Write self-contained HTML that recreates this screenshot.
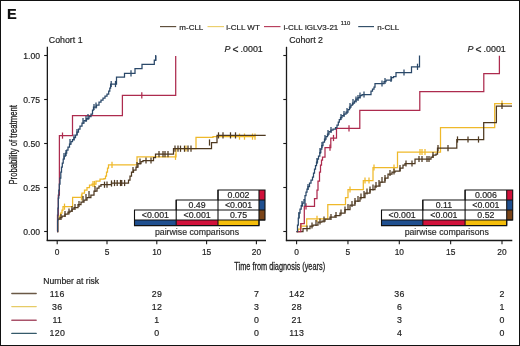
<!DOCTYPE html>
<html><head><meta charset="utf-8"><title>Cumulative incidence of treatment</title>
<style>
html,body{margin:0;padding:0;background:#fff;width:520px;height:346px;overflow:hidden}
svg{display:block;will-change:transform}
text{font-family:"Liberation Sans",sans-serif;stroke:#222;stroke-width:.18px}
.t{stroke-width:.3px}
</style></head><body>
<svg width="520" height="346" viewBox="0 0 520 346">
<rect x="0" y="0" width="520" height="346" fill="#fff"/><text x="7.1" y="19.2" font-size="14.6" font-weight="bold" fill="#111">E</text><line x1="160" y1="26.6" x2="176.2" y2="26.6" stroke="#5f4f3c" stroke-width="1.15"/><text x="179.3" y="29.7" font-size="8.0" fill="#222">m-CLL</text><line x1="207.5" y1="26.6" x2="224" y2="26.6" stroke="#ebcf6e" stroke-width="1.15"/><text x="226.3" y="29.7" font-size="8.0" fill="#222">i-CLL WT</text><line x1="264" y1="26.6" x2="280.5" y2="26.6" stroke="#b8405e" stroke-width="1.15"/><text x="283.6" y="29.7" font-size="8.0" fill="#222">i-CLL IGLV3-21</text><line x1="358.2" y1="26.6" x2="374" y2="26.6" stroke="#34506a" stroke-width="1.15"/><text x="377.3" y="29.7" font-size="8.0" fill="#222">n-CLL</text><text x="340.8" y="25.2" font-size="5.9" fill="#222">110</text><text x="48.8" y="43.0" font-size="8.8" fill="#222">Cohort 1</text><text x="289.2" y="43.0" font-size="8.8" fill="#222">Cohort 2</text><text x="224.6" y="52.0" font-size="8.9" font-style="italic" fill="#222">P</text><text x="232.4" y="53.2" font-size="10.3" fill="#222">&lt;</text><text x="240.6" y="52.0" font-size="8.9" fill="#222">.0001</text><text x="467.6" y="52.0" font-size="8.9" font-style="italic" fill="#222">P</text><text x="475.4" y="53.2" font-size="10.3" fill="#222">&lt;</text><text x="483.6" y="52.0" font-size="8.9" fill="#222">.0001</text><path d="M57.30 231.50H57.60V219.00H59.00V216.00H60.50V213.00H62.00V210.00H63.00V206.70H72.60V197.30H82.00V193.00H84.50V190.00H87.00V187.50H89.50V185.00H92.00V184.00H96.00V181.00H100.00V179.00H104.00V178.50H105.50V176.00H106.50V172.00H107.50V168.00H108.50V164.80H137.00V156.80H176.00V148.50H196.00V137.30H213.00V136.60H255.50" fill="none" stroke="#efb92a" stroke-width="1.25" stroke-linejoin="miter"/><line x1="64.50" y1="203.60" x2="64.50" y2="209.80" stroke="#efb92a" stroke-width="1.25"/><line x1="81.50" y1="194.20" x2="81.50" y2="200.40" stroke="#efb92a" stroke-width="1.25"/><line x1="93.00" y1="180.90" x2="93.00" y2="187.10" stroke="#efb92a" stroke-width="1.25"/><line x1="94.50" y1="180.90" x2="94.50" y2="187.10" stroke="#efb92a" stroke-width="1.25"/><line x1="112.00" y1="161.70" x2="112.00" y2="167.90" stroke="#efb92a" stroke-width="1.25"/><line x1="175.50" y1="153.70" x2="175.50" y2="159.90" stroke="#efb92a" stroke-width="1.25"/><line x1="186.00" y1="145.40" x2="186.00" y2="151.60" stroke="#efb92a" stroke-width="1.25"/><line x1="239.50" y1="133.50" x2="239.50" y2="139.70" stroke="#efb92a" stroke-width="1.25"/><line x1="244.50" y1="133.50" x2="244.50" y2="139.70" stroke="#efb92a" stroke-width="1.25"/><line x1="252.50" y1="133.50" x2="252.50" y2="139.70" stroke="#efb92a" stroke-width="1.25"/><line x1="255.00" y1="133.50" x2="255.00" y2="139.70" stroke="#efb92a" stroke-width="1.25"/><path d="M57.30 231.50H57.80V219.00H60.00V217.50H62.00V216.00H65.00V214.00H68.00V212.00H70.00V211.00H72.00V209.00H74.00V207.50H78.00V204.50H81.00V202.00H84.00V200.00H87.00V197.50H90.90V195.00H94.00V191.00H97.00V188.00H99.00V186.00H101.00V184.70H111.50V183.00H127.50H128.50V180.00H130.00V176.00H131.50V172.00H133.50V170.00H136.00V167.00H138.00V163.50H141.00V161.50H143.00V160.50H153.50V157.50H155.50V154.20H173.50V148.70H211.50V142.50H217.00V135.40H265.70" fill="none" stroke="#4e3920" stroke-width="1.25" stroke-linejoin="miter"/><line x1="61.00" y1="213.90" x2="61.00" y2="220.10" stroke="#4e3920" stroke-width="1.25"/><line x1="65.00" y1="210.90" x2="65.00" y2="217.10" stroke="#4e3920" stroke-width="1.25"/><line x1="69.00" y1="208.40" x2="69.00" y2="214.60" stroke="#4e3920" stroke-width="1.25"/><line x1="72.00" y1="205.90" x2="72.00" y2="212.10" stroke="#4e3920" stroke-width="1.25"/><line x1="75.00" y1="203.90" x2="75.00" y2="210.10" stroke="#4e3920" stroke-width="1.25"/><line x1="79.00" y1="200.90" x2="79.00" y2="207.10" stroke="#4e3920" stroke-width="1.25"/><line x1="83.00" y1="195.90" x2="83.00" y2="202.10" stroke="#4e3920" stroke-width="1.25"/><line x1="86.00" y1="193.90" x2="86.00" y2="200.10" stroke="#4e3920" stroke-width="1.25"/><line x1="89.00" y1="190.90" x2="89.00" y2="197.10" stroke="#4e3920" stroke-width="1.25"/><line x1="95.00" y1="185.90" x2="95.00" y2="192.10" stroke="#4e3920" stroke-width="1.25"/><line x1="104.50" y1="181.60" x2="104.50" y2="187.80" stroke="#4e3920" stroke-width="1.25"/><line x1="107.00" y1="181.60" x2="107.00" y2="187.80" stroke="#4e3920" stroke-width="1.25"/><line x1="111.50" y1="180.40" x2="111.50" y2="186.60" stroke="#4e3920" stroke-width="1.25"/><line x1="114.50" y1="179.90" x2="114.50" y2="186.10" stroke="#4e3920" stroke-width="1.25"/><line x1="117.20" y1="179.90" x2="117.20" y2="186.10" stroke="#4e3920" stroke-width="1.25"/><line x1="120.50" y1="179.90" x2="120.50" y2="186.10" stroke="#4e3920" stroke-width="1.25"/><line x1="121.70" y1="179.90" x2="121.70" y2="186.10" stroke="#4e3920" stroke-width="1.25"/><line x1="124.60" y1="179.90" x2="124.60" y2="186.10" stroke="#4e3920" stroke-width="1.25"/><line x1="133.00" y1="166.90" x2="133.00" y2="173.10" stroke="#4e3920" stroke-width="1.25"/><line x1="137.00" y1="161.90" x2="137.00" y2="168.10" stroke="#4e3920" stroke-width="1.25"/><line x1="140.00" y1="158.40" x2="140.00" y2="164.60" stroke="#4e3920" stroke-width="1.25"/><line x1="146.00" y1="157.40" x2="146.00" y2="163.60" stroke="#4e3920" stroke-width="1.25"/><line x1="151.00" y1="157.40" x2="151.00" y2="163.60" stroke="#4e3920" stroke-width="1.25"/><line x1="159.00" y1="151.10" x2="159.00" y2="157.30" stroke="#4e3920" stroke-width="1.25"/><line x1="163.00" y1="151.10" x2="163.00" y2="157.30" stroke="#4e3920" stroke-width="1.25"/><line x1="165.00" y1="151.10" x2="165.00" y2="157.30" stroke="#4e3920" stroke-width="1.25"/><line x1="168.00" y1="151.10" x2="168.00" y2="157.30" stroke="#4e3920" stroke-width="1.25"/><line x1="175.00" y1="145.60" x2="175.00" y2="151.80" stroke="#4e3920" stroke-width="1.25"/><line x1="178.00" y1="145.60" x2="178.00" y2="151.80" stroke="#4e3920" stroke-width="1.25"/><line x1="180.50" y1="145.60" x2="180.50" y2="151.80" stroke="#4e3920" stroke-width="1.25"/><line x1="184.50" y1="145.60" x2="184.50" y2="151.80" stroke="#4e3920" stroke-width="1.25"/><line x1="188.00" y1="145.60" x2="188.00" y2="151.80" stroke="#4e3920" stroke-width="1.25"/><line x1="191.00" y1="145.60" x2="191.00" y2="151.80" stroke="#4e3920" stroke-width="1.25"/><line x1="209.50" y1="139.40" x2="209.50" y2="145.60" stroke="#4e3920" stroke-width="1.25"/><line x1="218.50" y1="132.30" x2="218.50" y2="138.50" stroke="#4e3920" stroke-width="1.25"/><line x1="223.00" y1="132.30" x2="223.00" y2="138.50" stroke="#4e3920" stroke-width="1.25"/><line x1="230.50" y1="132.30" x2="230.50" y2="138.50" stroke="#4e3920" stroke-width="1.25"/><line x1="235.50" y1="132.30" x2="235.50" y2="138.50" stroke="#4e3920" stroke-width="1.25"/><path d="M57.30 231.50H57.50V215.00H58.30V195.00H59.40V135.60H72.50V115.50H122.40V95.40H175.70V56.10" fill="none" stroke="#ad2b4e" stroke-width="1.25" stroke-linejoin="miter"/><line x1="62.50" y1="132.50" x2="62.50" y2="138.70" stroke="#ad2b4e" stroke-width="1.25"/><line x1="141.80" y1="92.30" x2="141.80" y2="98.50" stroke="#ad2b4e" stroke-width="1.25"/><path d="M57.30 231.50H57.60V220.00H57.90V208.00H58.30V198.00H58.80V190.00H59.30V184.00H60.00V178.00H60.80V172.00H61.50V167.00H62.30V163.00H63.20V159.00H64.20V156.00H65.50V153.00H66.70V150.00H68.00V147.00H69.50V144.00H71.00V141.50H72.50V139.50H74.00V137.50H75.50V135.00H77.00V132.00H78.50V129.00H80.00V126.00H82.00V123.00H84.00V120.50H86.50V118.50H89.00V116.50H91.00V114.00H92.50V110.00H93.50V107.00H96.50V105.00H99.00V102.00H101.00V100.00H103.00V98.00H105.00V96.00H107.00V94.00H108.70V91.00H109.80V88.00H110.60V84.00H116.40H116.50V77.00H124.50V73.30H135.00V68.50H142.00V64.30H154.30V60.10H155.70V56.10" fill="none" stroke="#2a4869" stroke-width="1.25" stroke-linejoin="miter"/><line x1="64.00" y1="152.90" x2="64.00" y2="159.10" stroke="#2a4869" stroke-width="1.25"/><line x1="66.00" y1="149.90" x2="66.00" y2="156.10" stroke="#2a4869" stroke-width="1.25"/><line x1="70.00" y1="138.90" x2="70.00" y2="145.10" stroke="#2a4869" stroke-width="1.25"/><line x1="74.00" y1="134.40" x2="74.00" y2="140.60" stroke="#2a4869" stroke-width="1.25"/><line x1="77.00" y1="128.90" x2="77.00" y2="135.10" stroke="#2a4869" stroke-width="1.25"/><line x1="83.00" y1="117.90" x2="83.00" y2="124.10" stroke="#2a4869" stroke-width="1.25"/><line x1="86.00" y1="115.90" x2="86.00" y2="122.10" stroke="#2a4869" stroke-width="1.25"/><line x1="88.00" y1="113.90" x2="88.00" y2="120.10" stroke="#2a4869" stroke-width="1.25"/><line x1="94.00" y1="103.90" x2="94.00" y2="110.10" stroke="#2a4869" stroke-width="1.25"/><line x1="96.00" y1="102.40" x2="96.00" y2="108.60" stroke="#2a4869" stroke-width="1.25"/><line x1="111.20" y1="80.90" x2="111.20" y2="87.10" stroke="#2a4869" stroke-width="1.25"/><line x1="115.50" y1="80.90" x2="115.50" y2="87.10" stroke="#2a4869" stroke-width="1.25"/><line x1="131.00" y1="70.20" x2="131.00" y2="76.40" stroke="#2a4869" stroke-width="1.25"/><line x1="155.70" y1="54.90" x2="155.70" y2="61.10" stroke="#2a4869" stroke-width="1.25"/><path d="M296.60 231.60H298.00V229.00H300.50V226.00H306.70V218.80H327.80V204.50H345.50V197.50H348.00V189.50H363.30V180.50H373.00V167.50H397.50V152.00H440.50V127.60H494.70V103.70H512.00" fill="none" stroke="#efb92a" stroke-width="1.25" stroke-linejoin="miter"/><line x1="301.00" y1="222.90" x2="301.00" y2="229.10" stroke="#efb92a" stroke-width="1.25"/><line x1="317.00" y1="215.70" x2="317.00" y2="221.90" stroke="#efb92a" stroke-width="1.25"/><line x1="350.00" y1="186.40" x2="350.00" y2="192.60" stroke="#efb92a" stroke-width="1.25"/><line x1="365.00" y1="177.40" x2="365.00" y2="183.60" stroke="#efb92a" stroke-width="1.25"/><line x1="369.00" y1="177.40" x2="369.00" y2="183.60" stroke="#efb92a" stroke-width="1.25"/><line x1="374.00" y1="164.40" x2="374.00" y2="170.60" stroke="#efb92a" stroke-width="1.25"/><line x1="394.00" y1="164.40" x2="394.00" y2="170.60" stroke="#efb92a" stroke-width="1.25"/><line x1="420.00" y1="148.90" x2="420.00" y2="155.10" stroke="#efb92a" stroke-width="1.25"/><line x1="422.00" y1="148.90" x2="422.00" y2="155.10" stroke="#efb92a" stroke-width="1.25"/><line x1="425.00" y1="148.90" x2="425.00" y2="155.10" stroke="#efb92a" stroke-width="1.25"/><line x1="502.00" y1="100.60" x2="502.00" y2="106.80" stroke="#efb92a" stroke-width="1.25"/><path d="M296.60 231.60H303.00V228.50H309.00H310.00V226.00H313.00V225.00H318.00V222.00H322.00V221.00H325.00V219.00H330.00V217.00H335.00V215.50H340.00V213.00H345.00V209.50H350.00V205.00H355.00V201.00H360.00V197.50H365.00V193.00H370.00V189.50H375.00V186.00H380.00V182.00H385.00V178.00H388.00V174.00H392.00V172.00H395.00V171.00H400.00V168.00H403.00V165.00H405.00V163.50H414.00H415.00V159.00H430.00H431.00V157.00H433.00V155.00H436.00V154.00H437.50V152.00V148.20H456.80V139.50H483.70V122.70H496.40V106.00H512.00" fill="none" stroke="#4e3920" stroke-width="1.25" stroke-linejoin="miter"/><line x1="307.00" y1="225.40" x2="307.00" y2="231.60" stroke="#4e3920" stroke-width="1.25"/><line x1="312.00" y1="222.40" x2="312.00" y2="228.60" stroke="#4e3920" stroke-width="1.25"/><line x1="316.00" y1="219.90" x2="316.00" y2="226.10" stroke="#4e3920" stroke-width="1.25"/><line x1="320.00" y1="218.40" x2="320.00" y2="224.60" stroke="#4e3920" stroke-width="1.25"/><line x1="324.00" y1="216.40" x2="324.00" y2="222.60" stroke="#4e3920" stroke-width="1.25"/><line x1="331.00" y1="213.90" x2="331.00" y2="220.10" stroke="#4e3920" stroke-width="1.25"/><line x1="336.00" y1="211.90" x2="336.00" y2="218.10" stroke="#4e3920" stroke-width="1.25"/><line x1="341.00" y1="209.40" x2="341.00" y2="215.60" stroke="#4e3920" stroke-width="1.25"/><line x1="345.00" y1="206.40" x2="345.00" y2="212.60" stroke="#4e3920" stroke-width="1.25"/><line x1="348.00" y1="203.90" x2="348.00" y2="210.10" stroke="#4e3920" stroke-width="1.25"/><line x1="352.00" y1="200.90" x2="352.00" y2="207.10" stroke="#4e3920" stroke-width="1.25"/><line x1="355.00" y1="197.90" x2="355.00" y2="204.10" stroke="#4e3920" stroke-width="1.25"/><line x1="358.00" y1="195.90" x2="358.00" y2="202.10" stroke="#4e3920" stroke-width="1.25"/><line x1="361.00" y1="193.40" x2="361.00" y2="199.60" stroke="#4e3920" stroke-width="1.25"/><line x1="364.00" y1="190.90" x2="364.00" y2="197.10" stroke="#4e3920" stroke-width="1.25"/><line x1="367.00" y1="188.40" x2="367.00" y2="194.60" stroke="#4e3920" stroke-width="1.25"/><line x1="370.00" y1="186.40" x2="370.00" y2="192.60" stroke="#4e3920" stroke-width="1.25"/><line x1="373.00" y1="184.40" x2="373.00" y2="190.60" stroke="#4e3920" stroke-width="1.25"/><line x1="376.00" y1="181.90" x2="376.00" y2="188.10" stroke="#4e3920" stroke-width="1.25"/><line x1="379.00" y1="179.90" x2="379.00" y2="186.10" stroke="#4e3920" stroke-width="1.25"/><line x1="382.00" y1="176.90" x2="382.00" y2="183.10" stroke="#4e3920" stroke-width="1.25"/><line x1="385.00" y1="174.90" x2="385.00" y2="181.10" stroke="#4e3920" stroke-width="1.25"/><line x1="390.00" y1="169.90" x2="390.00" y2="176.10" stroke="#4e3920" stroke-width="1.25"/><line x1="394.00" y1="168.40" x2="394.00" y2="174.60" stroke="#4e3920" stroke-width="1.25"/><line x1="400.00" y1="164.90" x2="400.00" y2="171.10" stroke="#4e3920" stroke-width="1.25"/><line x1="406.00" y1="160.40" x2="406.00" y2="166.60" stroke="#4e3920" stroke-width="1.25"/><line x1="412.00" y1="160.40" x2="412.00" y2="166.60" stroke="#4e3920" stroke-width="1.25"/><line x1="419.00" y1="155.90" x2="419.00" y2="162.10" stroke="#4e3920" stroke-width="1.25"/><line x1="422.00" y1="155.90" x2="422.00" y2="162.10" stroke="#4e3920" stroke-width="1.25"/><line x1="427.00" y1="155.90" x2="427.00" y2="162.10" stroke="#4e3920" stroke-width="1.25"/><line x1="429.00" y1="155.90" x2="429.00" y2="162.10" stroke="#4e3920" stroke-width="1.25"/><line x1="433.00" y1="151.90" x2="433.00" y2="158.10" stroke="#4e3920" stroke-width="1.25"/><line x1="438.00" y1="145.10" x2="438.00" y2="151.30" stroke="#4e3920" stroke-width="1.25"/><line x1="448.00" y1="145.10" x2="448.00" y2="151.30" stroke="#4e3920" stroke-width="1.25"/><line x1="457.50" y1="136.40" x2="457.50" y2="142.60" stroke="#4e3920" stroke-width="1.25"/><line x1="468.00" y1="136.40" x2="468.00" y2="142.60" stroke="#4e3920" stroke-width="1.25"/><line x1="478.50" y1="136.40" x2="478.50" y2="142.60" stroke="#4e3920" stroke-width="1.25"/><line x1="502.00" y1="102.90" x2="502.00" y2="109.10" stroke="#4e3920" stroke-width="1.25"/><path d="M296.60 231.60H300.80V223.60H304.30V206.40H314.50V198.60H317.00V190.00H318.00V181.00H319.50V172.00H320.50V165.00H321.50V160.00H322.50V157.00H325.00V147.70H330.80V138.00H336.50V128.40H359.80V110.30H419.80V91.50H483.80V73.50H499.40V55.80" fill="none" stroke="#ad2b4e" stroke-width="1.25" stroke-linejoin="miter"/><line x1="306.00" y1="203.30" x2="306.00" y2="209.50" stroke="#ad2b4e" stroke-width="1.25"/><line x1="330.00" y1="144.60" x2="330.00" y2="150.80" stroke="#ad2b4e" stroke-width="1.25"/><line x1="333.50" y1="134.90" x2="333.50" y2="141.10" stroke="#ad2b4e" stroke-width="1.25"/><line x1="349.00" y1="125.30" x2="349.00" y2="131.50" stroke="#ad2b4e" stroke-width="1.25"/><path d="M296.60 231.60H297.00H297.50V225.00H298.30V218.00H299.00V213.00H300.00V209.00H301.20V205.50H302.50V203.00H304.00V199.50H305.00V195.50H306.00V192.00H307.00V189.00H308.00V186.50H309.50V183.00H311.00V180.00H312.50V177.00H313.50V173.00H314.50V169.00H315.50V165.50H316.50V162.00H317.50V159.00H318.50V156.00H319.80V152.50H320.80V149.00H321.80V145.50H323.00V142.00H324.50V139.00H326.00V136.50H327.50V134.00H329.00V131.50H331.00V130.00H333.00V129.00H335.50V127.50H337.00V125.00H338.30V122.00H339.30V119.50H340.50V117.50H342.00V115.50H344.00V114.00H346.00V112.00H348.00V109.50H349.50V107.00H351.00V105.00H352.50V103.00H354.50V101.00H356.00V99.00H358.00V97.50H360.00V95.50H362.00V94.50H370.00H371.00V91.00H372.50V89.00H374.00V87.00H375.00V83.50H383.00H384.00V81.50H386.00V80.00H390.00H391.50V77.50H393.50V76.50H396.00V72.50H411.50V66.80H419.50V55.50" fill="none" stroke="#2a4869" stroke-width="1.25" stroke-linejoin="miter"/><line x1="299.00" y1="211.90" x2="299.00" y2="218.10" stroke="#2a4869" stroke-width="1.25"/><line x1="302.00" y1="200.90" x2="302.00" y2="207.10" stroke="#2a4869" stroke-width="1.25"/><line x1="305.00" y1="199.90" x2="305.00" y2="206.10" stroke="#2a4869" stroke-width="1.25"/><line x1="308.00" y1="183.90" x2="308.00" y2="190.10" stroke="#2a4869" stroke-width="1.25"/><line x1="317.00" y1="157.90" x2="317.00" y2="164.10" stroke="#2a4869" stroke-width="1.25"/><line x1="320.00" y1="147.90" x2="320.00" y2="154.10" stroke="#2a4869" stroke-width="1.25"/><line x1="322.00" y1="141.90" x2="322.00" y2="148.10" stroke="#2a4869" stroke-width="1.25"/><line x1="325.00" y1="134.90" x2="325.00" y2="141.10" stroke="#2a4869" stroke-width="1.25"/><line x1="328.00" y1="129.90" x2="328.00" y2="136.10" stroke="#2a4869" stroke-width="1.25"/><line x1="331.00" y1="126.90" x2="331.00" y2="133.10" stroke="#2a4869" stroke-width="1.25"/><line x1="341.00" y1="113.90" x2="341.00" y2="120.10" stroke="#2a4869" stroke-width="1.25"/><line x1="344.00" y1="110.90" x2="344.00" y2="117.10" stroke="#2a4869" stroke-width="1.25"/><line x1="347.00" y1="107.90" x2="347.00" y2="114.10" stroke="#2a4869" stroke-width="1.25"/><line x1="350.00" y1="102.90" x2="350.00" y2="109.10" stroke="#2a4869" stroke-width="1.25"/><line x1="353.00" y1="98.90" x2="353.00" y2="105.10" stroke="#2a4869" stroke-width="1.25"/><line x1="356.00" y1="96.40" x2="356.00" y2="102.60" stroke="#2a4869" stroke-width="1.25"/><line x1="358.00" y1="94.90" x2="358.00" y2="101.10" stroke="#2a4869" stroke-width="1.25"/><line x1="360.00" y1="92.40" x2="360.00" y2="98.60" stroke="#2a4869" stroke-width="1.25"/><line x1="364.00" y1="91.40" x2="364.00" y2="97.60" stroke="#2a4869" stroke-width="1.25"/><line x1="382.00" y1="80.40" x2="382.00" y2="86.60" stroke="#2a4869" stroke-width="1.25"/><line x1="385.00" y1="77.90" x2="385.00" y2="84.10" stroke="#2a4869" stroke-width="1.25"/><line x1="391.00" y1="75.90" x2="391.00" y2="82.10" stroke="#2a4869" stroke-width="1.25"/><line x1="404.00" y1="69.40" x2="404.00" y2="75.60" stroke="#2a4869" stroke-width="1.25"/><line x1="417.50" y1="63.70" x2="417.50" y2="69.90" stroke="#2a4869" stroke-width="1.25"/><line x1="47.35" y1="46.8" x2="47.35" y2="241.1" stroke="#1a1a1a" stroke-width="1.3"/><line x1="46.7" y1="240.5" x2="266" y2="240.5" stroke="#1a1a1a" stroke-width="1.3"/><line x1="44.15" y1="231.5" x2="47.35" y2="231.5" stroke="#1a1a1a" stroke-width="1.1"/><text x="40" y="234.5" text-anchor="end" font-size="8.6" fill="#222">0.00</text><line x1="44.15" y1="187.5" x2="47.35" y2="187.5" stroke="#1a1a1a" stroke-width="1.1"/><text x="40" y="190.5" text-anchor="end" font-size="8.6" fill="#222">0.25</text><line x1="44.15" y1="143.5" x2="47.35" y2="143.5" stroke="#1a1a1a" stroke-width="1.1"/><text x="40" y="146.5" text-anchor="end" font-size="8.6" fill="#222">0.50</text><line x1="44.15" y1="99.5" x2="47.35" y2="99.5" stroke="#1a1a1a" stroke-width="1.1"/><text x="40" y="102.5" text-anchor="end" font-size="8.6" fill="#222">0.75</text><line x1="44.15" y1="55.5" x2="47.35" y2="55.5" stroke="#1a1a1a" stroke-width="1.1"/><text x="40" y="58.5" text-anchor="end" font-size="8.6" fill="#222">1.00</text><line x1="57.20" y1="240.5" x2="57.20" y2="244.2" stroke="#1a1a1a" stroke-width="1.1"/><text x="57.20" y="254.6" text-anchor="middle" font-size="8.4" fill="#222">0</text><line x1="107.00" y1="240.5" x2="107.00" y2="244.2" stroke="#1a1a1a" stroke-width="1.1"/><text x="107.00" y="254.6" text-anchor="middle" font-size="8.4" fill="#222">5</text><line x1="156.80" y1="240.5" x2="156.80" y2="244.2" stroke="#1a1a1a" stroke-width="1.1"/><text x="156.80" y="254.6" text-anchor="middle" font-size="8.4" fill="#222">10</text><line x1="206.60" y1="240.5" x2="206.60" y2="244.2" stroke="#1a1a1a" stroke-width="1.1"/><text x="206.60" y="254.6" text-anchor="middle" font-size="8.4" fill="#222">15</text><line x1="256.40" y1="240.5" x2="256.40" y2="244.2" stroke="#1a1a1a" stroke-width="1.1"/><text x="256.40" y="254.6" text-anchor="middle" font-size="8.4" fill="#222">20</text><line x1="286.5" y1="46.8" x2="286.5" y2="241.1" stroke="#1a1a1a" stroke-width="1.3"/><line x1="285.85" y1="240.5" x2="512.3" y2="240.5" stroke="#1a1a1a" stroke-width="1.3"/><line x1="283.3" y1="231.5" x2="286.5" y2="231.5" stroke="#1a1a1a" stroke-width="1.1"/><line x1="283.3" y1="187.5" x2="286.5" y2="187.5" stroke="#1a1a1a" stroke-width="1.1"/><line x1="283.3" y1="143.5" x2="286.5" y2="143.5" stroke="#1a1a1a" stroke-width="1.1"/><line x1="283.3" y1="99.5" x2="286.5" y2="99.5" stroke="#1a1a1a" stroke-width="1.1"/><line x1="283.3" y1="55.5" x2="286.5" y2="55.5" stroke="#1a1a1a" stroke-width="1.1"/><line x1="296.60" y1="240.5" x2="296.60" y2="244.2" stroke="#1a1a1a" stroke-width="1.1"/><text x="296.60" y="254.6" text-anchor="middle" font-size="8.4" fill="#222">0</text><line x1="347.95" y1="240.5" x2="347.95" y2="244.2" stroke="#1a1a1a" stroke-width="1.1"/><text x="347.95" y="254.6" text-anchor="middle" font-size="8.4" fill="#222">5</text><line x1="399.30" y1="240.5" x2="399.30" y2="244.2" stroke="#1a1a1a" stroke-width="1.1"/><text x="399.30" y="254.6" text-anchor="middle" font-size="8.4" fill="#222">10</text><line x1="450.65" y1="240.5" x2="450.65" y2="244.2" stroke="#1a1a1a" stroke-width="1.1"/><text x="450.65" y="254.6" text-anchor="middle" font-size="8.4" fill="#222">15</text><line x1="502.00" y1="240.5" x2="502.00" y2="244.2" stroke="#1a1a1a" stroke-width="1.1"/><text x="502.00" y="254.6" text-anchor="middle" font-size="8.4" fill="#222">20</text><rect x="134.5" y="220" width="41.69999999999999" height="5.6" fill="#1f4f8f"/><rect x="176.2" y="220" width="41.80000000000001" height="5.6" fill="#d0103a"/><rect x="218.0" y="220" width="41.0" height="5.6" fill="#f4bd0a"/><rect x="259.0" y="190" width="6.0" height="10" fill="#d0103a"/><rect x="259.0" y="200" width="6.0" height="10" fill="#1f4f8f"/><rect x="259.0" y="210" width="6.0" height="10" fill="#7a4418"/><rect x="218.0" y="190" width="41.0" height="10" fill="#fff"/><rect x="176.2" y="200" width="41.80000000000001" height="10" fill="#fff"/><rect x="218.0" y="200" width="41.0" height="10" fill="#fff"/><rect x="134.5" y="210" width="41.69999999999999" height="10" fill="#fff"/><rect x="176.2" y="210" width="41.80000000000001" height="10" fill="#fff"/><rect x="218.0" y="210" width="41.0" height="10" fill="#fff"/><path d="M134.5 210H176.2V200H218.0V190H265.0V220H259.0V225.6H134.5Z" fill="none" stroke="#111" stroke-width="1.1"/><line x1="218.0" y1="200" x2="265.0" y2="200" stroke="#111" stroke-width="1.1"/><line x1="176.2" y1="210" x2="265.0" y2="210" stroke="#111" stroke-width="1.1"/><line x1="134.5" y1="220" x2="265.0" y2="220" stroke="#111" stroke-width="1.1"/><line x1="176.2" y1="200" x2="176.2" y2="225.6" stroke="#111" stroke-width="1.1"/><line x1="218.0" y1="190" x2="218.0" y2="225.6" stroke="#111" stroke-width="1.1"/><line x1="259.0" y1="190" x2="259.0" y2="225.6" stroke="#111" stroke-width="1.1"/><text x="238.5" y="198.3" text-anchor="middle" font-size="8.8" fill="#222">0.002</text><text x="197.1" y="208.3" text-anchor="middle" font-size="8.8" fill="#222">0.49</text><text x="238.5" y="208.3" text-anchor="middle" font-size="8.8" fill="#222">&lt;0.001</text><text x="155.35" y="218.3" text-anchor="middle" font-size="8.8" fill="#222">&lt;0.001</text><text x="197.1" y="218.3" text-anchor="middle" font-size="8.8" fill="#222">&lt;0.001</text><text x="238.5" y="218.3" text-anchor="middle" font-size="8.8" fill="#222">0.75</text><text x="197.0" y="235.0" text-anchor="middle" font-size="8.75" fill="#333">pairwise comparisons</text><rect x="381.5" y="220" width="41.30000000000001" height="5.6" fill="#1f4f8f"/><rect x="422.8" y="220" width="42.30000000000001" height="5.6" fill="#d0103a"/><rect x="465.1" y="220" width="41.60000000000002" height="5.6" fill="#f4bd0a"/><rect x="506.70000000000005" y="190" width="6.0" height="10" fill="#d0103a"/><rect x="506.70000000000005" y="200" width="6.0" height="10" fill="#1f4f8f"/><rect x="506.70000000000005" y="210" width="6.0" height="10" fill="#7a4418"/><rect x="465.1" y="190" width="41.60000000000002" height="10" fill="#fff"/><rect x="422.8" y="200" width="42.30000000000001" height="10" fill="#fff"/><rect x="465.1" y="200" width="41.60000000000002" height="10" fill="#fff"/><rect x="381.5" y="210" width="41.30000000000001" height="10" fill="#fff"/><rect x="422.8" y="210" width="42.30000000000001" height="10" fill="#fff"/><rect x="465.1" y="210" width="41.60000000000002" height="10" fill="#fff"/><path d="M381.5 210H422.8V200H465.1V190H512.7V220H506.70000000000005V225.6H381.5Z" fill="none" stroke="#111" stroke-width="1.1"/><line x1="465.1" y1="200" x2="512.7" y2="200" stroke="#111" stroke-width="1.1"/><line x1="422.8" y1="210" x2="512.7" y2="210" stroke="#111" stroke-width="1.1"/><line x1="381.5" y1="220" x2="512.7" y2="220" stroke="#111" stroke-width="1.1"/><line x1="422.8" y1="200" x2="422.8" y2="225.6" stroke="#111" stroke-width="1.1"/><line x1="465.1" y1="190" x2="465.1" y2="225.6" stroke="#111" stroke-width="1.1"/><line x1="506.70000000000005" y1="190" x2="506.70000000000005" y2="225.6" stroke="#111" stroke-width="1.1"/><text x="485.90000000000003" y="198.3" text-anchor="middle" font-size="8.8" fill="#222">0.006</text><text x="443.95000000000005" y="208.3" text-anchor="middle" font-size="8.8" fill="#222">0.11</text><text x="485.90000000000003" y="208.3" text-anchor="middle" font-size="8.8" fill="#222">&lt;0.001</text><text x="402.15" y="218.3" text-anchor="middle" font-size="8.8" fill="#222">&lt;0.001</text><text x="443.95000000000005" y="218.3" text-anchor="middle" font-size="8.8" fill="#222">&lt;0.001</text><text x="485.90000000000003" y="218.3" text-anchor="middle" font-size="8.8" fill="#222">0.52</text><text x="446.7" y="235.0" text-anchor="middle" font-size="8.75" fill="#333">pairwise comparisons</text><text x="0" y="0" transform="translate(17,184.6) rotate(-90)" class="t" font-size="10.2" fill="#222" textLength="79.5" lengthAdjust="spacingAndGlyphs">Probability of treatment</text><text x="234.3" y="269.6" class="t" font-size="10.6" fill="#222" textLength="90.8" lengthAdjust="spacingAndGlyphs">Time from diagnosis (years)</text><text x="43.3" y="284.0" font-size="8.6" fill="#222">Number at risk</text><line x1="11.8" y1="293.5" x2="36.2" y2="293.5" stroke="#6a5845" stroke-width="1.35" stroke-linecap="round"/><text x="57.3" y="296.5" text-anchor="middle" font-size="8.8" letter-spacing="0.3" fill="#222">116</text><text x="156.9" y="296.5" text-anchor="middle" font-size="8.8" letter-spacing="0.3" fill="#222">29</text><text x="256.5" y="296.5" text-anchor="middle" font-size="8.8" letter-spacing="0.3" fill="#222">7</text><text x="296.8" y="296.5" text-anchor="middle" font-size="8.8" letter-spacing="0.3" fill="#222">142</text><text x="399.5" y="296.5" text-anchor="middle" font-size="8.8" letter-spacing="0.3" fill="#222">36</text><text x="502.2" y="296.5" text-anchor="middle" font-size="8.8" letter-spacing="0.3" fill="#222">2</text><line x1="11.8" y1="306.6" x2="36.2" y2="306.6" stroke="#e6cb66" stroke-width="1.35" stroke-linecap="round"/><text x="57.3" y="309.6" text-anchor="middle" font-size="8.8" letter-spacing="0.3" fill="#222">36</text><text x="156.9" y="309.6" text-anchor="middle" font-size="8.8" letter-spacing="0.3" fill="#222">12</text><text x="256.5" y="309.6" text-anchor="middle" font-size="8.8" letter-spacing="0.3" fill="#222">3</text><text x="296.8" y="309.6" text-anchor="middle" font-size="8.8" letter-spacing="0.3" fill="#222">28</text><text x="399.5" y="309.6" text-anchor="middle" font-size="8.8" letter-spacing="0.3" fill="#222">6</text><text x="502.2" y="309.6" text-anchor="middle" font-size="8.8" letter-spacing="0.3" fill="#222">1</text><line x1="11.8" y1="320.2" x2="36.2" y2="320.2" stroke="#a9536a" stroke-width="1.35" stroke-linecap="round"/><text x="57.3" y="323.2" text-anchor="middle" font-size="8.8" letter-spacing="0.3" fill="#222">11</text><text x="156.9" y="323.2" text-anchor="middle" font-size="8.8" letter-spacing="0.3" fill="#222">1</text><text x="256.5" y="323.2" text-anchor="middle" font-size="8.8" letter-spacing="0.3" fill="#222">0</text><text x="296.8" y="323.2" text-anchor="middle" font-size="8.8" letter-spacing="0.3" fill="#222">21</text><text x="399.5" y="323.2" text-anchor="middle" font-size="8.8" letter-spacing="0.3" fill="#222">3</text><text x="502.2" y="323.2" text-anchor="middle" font-size="8.8" letter-spacing="0.3" fill="#222">0</text><line x1="11.8" y1="333.4" x2="36.2" y2="333.4" stroke="#355a6a" stroke-width="1.35" stroke-linecap="round"/><text x="57.3" y="336.4" text-anchor="middle" font-size="8.8" letter-spacing="0.3" fill="#222">120</text><text x="156.9" y="336.4" text-anchor="middle" font-size="8.8" letter-spacing="0.3" fill="#222">0</text><text x="256.5" y="336.4" text-anchor="middle" font-size="8.8" letter-spacing="0.3" fill="#222">0</text><text x="296.8" y="336.4" text-anchor="middle" font-size="8.8" letter-spacing="0.3" fill="#222">113</text><text x="399.5" y="336.4" text-anchor="middle" font-size="8.8" letter-spacing="0.3" fill="#222">4</text><text x="502.2" y="336.4" text-anchor="middle" font-size="8.8" letter-spacing="0.3" fill="#222">0</text><rect x="0.5" y="0.5" width="519" height="345" fill="none" stroke="#111" stroke-width="1"/>
</svg>
</body></html>
